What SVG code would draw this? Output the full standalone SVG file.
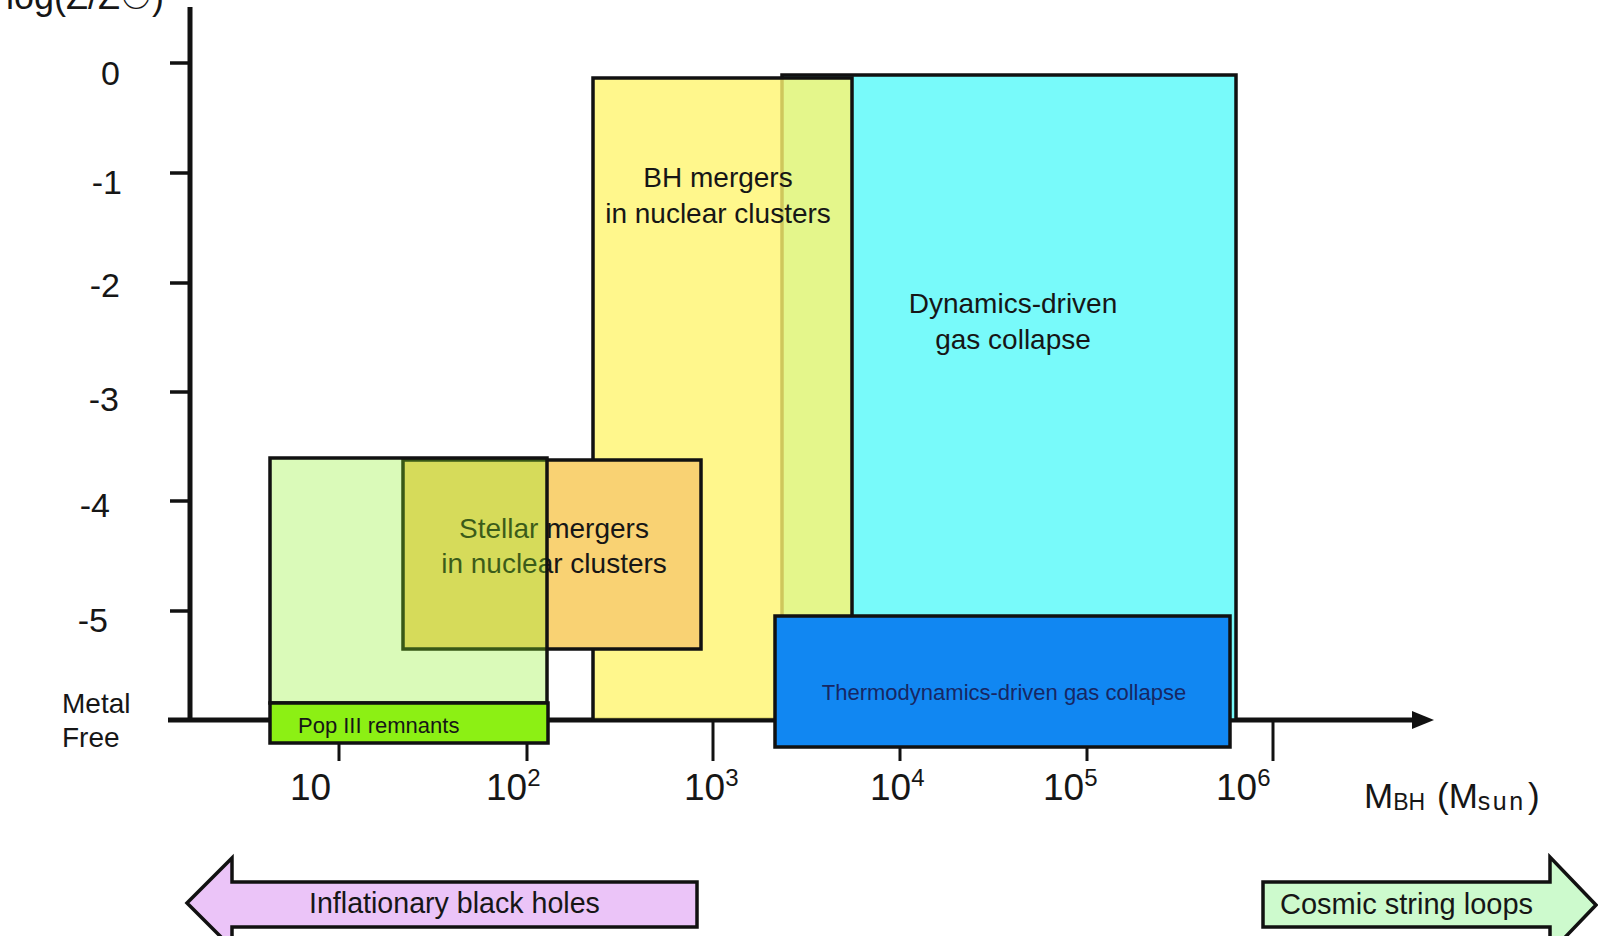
<svg xmlns="http://www.w3.org/2000/svg" width="1598" height="936" viewBox="0 0 1598 936">
<style>
text{font-family:"Liberation Sans",Arial,sans-serif;fill:#161616}
.box{stroke:#111;stroke-width:3.5}
.ax{stroke:#111;fill:none}
.lbl{font-size:28px}
.tk{font-size:34px;text-anchor:end}
.xl{font-size:37px}
.sup{font-size:24px}
.mid{text-anchor:middle}
</style>
<rect width="1598" height="936" fill="#ffffff"/>
<g id="axes">
  <text x="6" y="9" style="font-size:36px">log(Z/Z☉)</text>
  <line class="ax" x1="190" y1="7" x2="190" y2="722" stroke-width="5"/>
  <line class="ax" x1="168" y1="720" x2="1416" y2="720" stroke-width="5"/>
  <polygon points="1434,720 1412,711 1412,729" fill="#111"/>
  <g stroke="#111" stroke-width="3.5">
    <line x1="170" y1="63" x2="190" y2="63"/>
    <line x1="170" y1="173" x2="190" y2="173"/>
    <line x1="170" y1="283" x2="190" y2="283"/>
    <line x1="170" y1="392" x2="190" y2="392"/>
    <line x1="170" y1="501" x2="190" y2="501"/>
    <line x1="170" y1="611" x2="190" y2="611"/>
  </g>
  <g stroke="#111" stroke-width="3">
    <line x1="339" y1="720" x2="339" y2="761"/>
    <line x1="527" y1="720" x2="527" y2="761"/>
    <line x1="713" y1="720" x2="713" y2="761"/>
    <line x1="900" y1="720" x2="900" y2="761"/>
    <line x1="1087" y1="720" x2="1087" y2="761"/>
    <line x1="1273" y1="720" x2="1273" y2="761"/>
  </g>
  <text class="tk" x="120" y="85">0</text>
  <text class="tk" x="122" y="194">-1</text>
  <text class="tk" x="120" y="297">-2</text>
  <text class="tk" x="119" y="411">-3</text>
  <text class="tk" x="110" y="517">-4</text>
  <text class="tk" x="108" y="632">-5</text>
  <text x="62" y="713" style="font-size:28px">Metal</text>
  <text x="62" y="747" style="font-size:28px">Free</text>
  <text class="xl" x="290" y="800">10</text>
  <text class="xl" x="486" y="800">10<tspan class="sup" dy="-14">2</tspan></text>
  <text class="xl" x="684" y="800">10<tspan class="sup" dy="-14">3</tspan></text>
  <text class="xl" x="870" y="800">10<tspan class="sup" dy="-14">4</tspan></text>
  <text class="xl" x="1043" y="800">10<tspan class="sup" dy="-14">5</tspan></text>
  <text class="xl" x="1216" y="800">10<tspan class="sup" dy="-14">6</tspan></text>
  <text x="1364" y="808" style="font-size:35px">M<tspan style="font-size:23px" dy="2">BH</tspan><tspan x="1437" dy="-2">(M</tspan><tspan style="font-size:25px;letter-spacing:2.5px" dy="2">sun</tspan><tspan x="1528" dy="-2">)</tspan></text>
</g>
<g id="dynamics-collapse">
  <rect class="box" x="782" y="75" width="454" height="645" fill="#78fafa"/>
</g>
<g id="bh-mergers">
  <rect class="box" x="593" y="78" width="259" height="642" fill="#fff56f" fill-opacity="0.8"/>
</g>
<g id="thermo-collapse">
  <rect class="box" x="775" y="616" width="455" height="131" fill="#1187f2" stroke-width="4"/>
  <text class="mid" x="1004" y="700" style="font-size:22px;fill:#172764">Thermodynamics-driven gas collapse</text>
</g>
<g id="stellar-mergers">
  <rect class="box" x="403" y="460" width="298" height="189" fill="#f9d273"/>
  <text class="lbl mid" x="554" y="538">Stellar mergers</text>
  <text class="lbl mid" x="554" y="573">in nuclear clusters</text>
</g>
<g id="popIII-region">
  <rect x="270" y="458" width="277" height="245" fill="#8cef25" fill-opacity="0.32"/>
  <rect class="box" x="270" y="458" width="277" height="245" fill="none"/>
</g>
<g id="popIII-remnants">
  <rect class="box" x="270" y="703" width="278" height="40" fill="#8cf014"/>
  <text x="298" y="733" style="font-size:22px">Pop III remnants</text>
</g>
<g id="bh-mergers-label">
  <text class="lbl mid" x="718" y="187">BH mergers</text>
  <text class="lbl mid" x="718" y="223">in nuclear clusters</text>
</g>
<g id="dynamics-label">
  <text class="lbl mid" x="1013" y="313">Dynamics-driven</text>
  <text class="lbl mid" x="1013" y="349">gas collapse</text>
</g>
<g id="inflationary">
  <polygon class="box" points="187,903 232,858 232,882 697,882 697,927 232,927 232,948" fill="#ebc4f8"/>
  <text x="309" y="913" style="font-size:28.6px">Inflationary black holes</text>
</g>
<g id="cosmic-strings">
  <polygon class="box" points="1596,905 1550,857 1550,882 1263,882 1263,927 1550,927 1550,953" fill="#cdfacd"/>
  <text x="1280" y="914" style="font-size:29px">Cosmic string loops</text>
</g>
</svg>
